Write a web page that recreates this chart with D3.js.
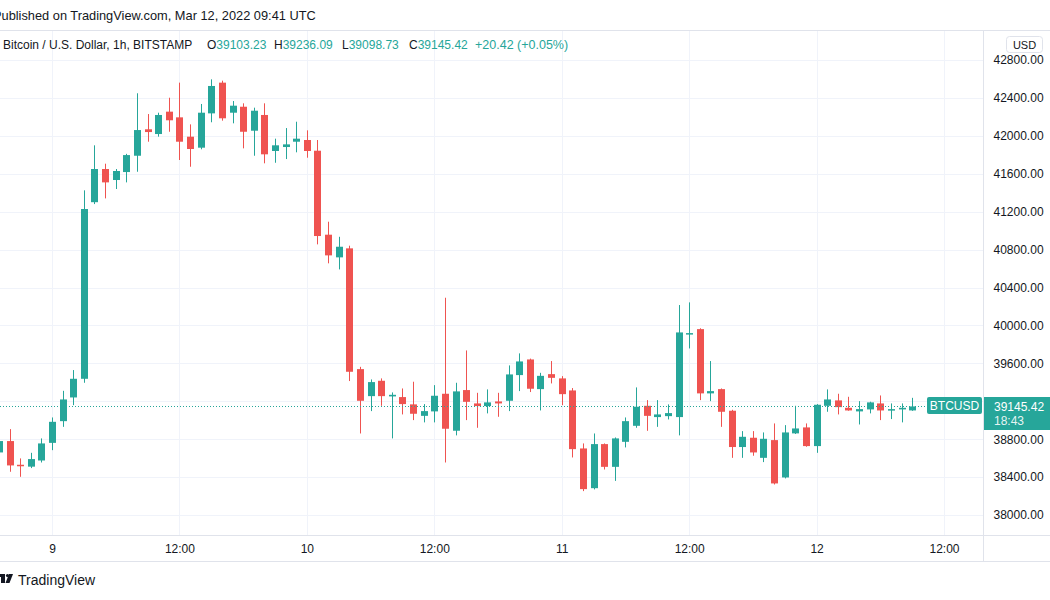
<!DOCTYPE html>
<html><head><meta charset="utf-8">
<script src="https://cdn.jsdelivr.net/npm/d3@7"></script>
<style>html,body{margin:0;padding:0;background:#fff;overflow:hidden}svg{display:block}text{font-family:"Liberation Sans",Arial,sans-serif}</style>
</head><body>
<svg id="chart" width="1050" height="600"></svg>
<script>
// ---- data (hourly candles, BITSTAMP BTC/USD) ----
const startTime = "2022-03-08T19:00:00Z";
const opens  = [38660,38780,38530,38510,38575,38761,38990,39240,39437,41300,41650,41534,41618,41790,42069,42019,42255,42195,41991,41875,42237,42561,42244,42307,42054,42220,41840,41882,41938,41956,41843,40957,40718,40813,39539,39254,39416,39251,39244,39167,39046,39093,39279,38889,39318,39177,39149,39198,39205,39476,39641,39328,39486,39441,39314,38702,38283,38748,38508,38772,38941,39152,39033,39043,39033,39905,39961,39283,39328,39100,38717,38815,38603,38790,38396,38861,38924,38727,39152,39209,39131,39093,39114,39177,39103,39114,39103.23];
const highs  = [38850,38906,38597,38656,38808,39029,39310,39529,41425,41900,41706,41650,41810,42449,42230,42244,42402,42561,42121,42336,42596,42582,42367,42343,42297,42343,41970,42082,42149,42058,41956,41094,40935,40841,39563,39430,39441,39293,39335,39406,39170,39370,40292,39395,39736,39289,39325,39289,39578,39705,39650,39500,39624,39465,39339,38755,38860,38755,38818,39029,39346,39212,39212,39167,40215,40243,39970,39624,39335,39110,38885,38885,38871,38966,38948,39152,38966,39170,39325,39279,39247,39201,39195,39261,39177,39177,39236.09];
const lows   = [38620,38456,38403,38495,38554,38684,38930,39159,39395,41280,41340,41439,41509,41621,41938,41991,42043,41745,41674,41858,42143,42160,42132,41868,41790,41710,41716,41755,41826,41769,40855,40655,40591,39413,38860,39096,39152,38808,39061,39001,38977,38977,38554,38840,39001,38920,39072,39036,39096,39307,39297,39103,39388,39159,38607,38252,38270,38480,38360,38713,38920,38888,38930,39008,38840,39757,39212,39201,38930,38603,38603,38625,38558,38322,38386,38855,38720,38656,39089,39061,39100,38955,39072,39001,39012,38977,39098.73];
const closes = [38780,38523,38515,38590,38755,38983,39219,39437,41228,41650,41509,41629,41797,42061,42040,42220,42164,41938,41861,42244,42526,42185,42318,42043,42265,41805,41900,41910,41970,41840,40943,40739,40830,39511,39205,39402,39254,39268,39170,39068,39096,39258,38910,39304,39194,39149,39188,39177,39483,39620,39332,39468,39447,39275,38695,38273,38748,38508,38808,38990,39142,39046,39061,39075,39926,39919,39283,39307,39089,38717,38825,38660,38804,38333,38871,38913,38727,39163,39219,39138,39103,39117,39188,39103,39117,39131,39145.42];
const priceTicks = [38000,38400,38800,39200,39600,40000,40400,40800,41200,41600,42000,42400,42800];
const timeTicks = ["2022-03-09T00:00Z","2022-03-09T12:00Z","2022-03-10T00:00Z","2022-03-10T12:00Z","2022-03-11T00:00Z","2022-03-11T12:00Z","2022-03-12T00:00Z","2022-03-12T12:00Z"];
const timeTickLabels = ["9","12:00","10","12:00","11","12:00","12","12:00"];
const lastPrice = 39145.42, countdown = "18:43", symbol = "BTCUSD";
const legendTitle = "Bitcoin / U.S. Dollar, 1h, BITSTAMP";
const legendKeys = ["O","H","L","C"];
const legendNums = ["39103.23","39236.09","39098.73","39145.42"];
const legendChange = "+20.42 (+0.05%)";
const publishedText = "Published on TradingView.com, Mar 12, 2022 09:41 UTC";

// ---- setup ----
const W = 1050, H = 600;
const paneTop = 30, paneBottom = 535.5, paneRight = 983.5;
const UP = "#26a69a", DOWN = "#ef5350", GRID = "#f0f3fa", BORDER = "#e0e3eb", TXT = "#131722";
const svg = d3.select("#chart");

const t0 = d3.isoParse(startTime);
const candles = opens.map((o,i)=>({t:d3.utcHour.offset(t0,i),o,h:highs[i],l:lows[i],c:closes[i]}));

const x = d3.scaleUtc().domain([d3.isoParse("2022-03-09T00:00Z"), d3.isoParse("2022-03-12T12:00Z")]).range([52, 944]);
const y = d3.scaleLinear().domain([38000, 42800]).range([515, 60]);
const yl = Math.round(y(lastPrice))+0.5;

const defs = svg.append("defs");
defs.append("clipPath").attr("id","pane").append("rect")
  .attr("x",0).attr("y",paneTop).attr("width",paneRight).attr("height",paneBottom-paneTop);
// price-axis clip: everything except the last-price label box
const axClip = defs.append("clipPath").attr("id","axclip");
axClip.append("rect").attr("x",paneRight).attr("y",paneTop).attr("width",W-paneRight).attr("height",(yl-9.5)-paneTop);
axClip.append("rect").attr("x",paneRight).attr("y",yl+23.5).attr("width",W-paneRight).attr("height",paneBottom-(yl+23.5));

// grid
const grid = svg.append("g").attr("clip-path","url(#pane)");
grid.selectAll("line.h").data(priceTicks).join("line")
  .attr("x1",0).attr("x2",paneRight).attr("y1",d=>Math.round(y(d))+0.5).attr("y2",d=>Math.round(y(d))+0.5)
  .attr("stroke",GRID).attr("stroke-width",1);
grid.selectAll("line.v").data(timeTicks).join("line")
  .attr("x1",d=>Math.round(x(d3.isoParse(d)))+0.5).attr("x2",d=>Math.round(x(d3.isoParse(d)))+0.5)
  .attr("y1",paneTop).attr("y2",paneBottom).attr("stroke",GRID).attr("stroke-width",1);

// borders
svg.append("line").attr("x1",0).attr("x2",W).attr("y1",paneTop+0.5).attr("y2",paneTop+0.5).attr("stroke",BORDER);
svg.append("line").attr("x1",0).attr("x2",W).attr("y1",paneBottom).attr("y2",paneBottom).attr("stroke",BORDER);
svg.append("line").attr("x1",0).attr("x2",W).attr("y1",561.5).attr("y2",561.5).attr("stroke",BORDER);
svg.append("line").attr("x1",paneRight).attr("x2",paneRight).attr("y1",paneTop).attr("y2",561.5).attr("stroke",BORDER);

// candles
const bw = 7;
const cg = svg.append("g").attr("clip-path","url(#pane)");
const cs = cg.selectAll("g.c").data(candles).join("g");
cs.append("line")
  .attr("x1",d=>Math.round(x(d.t))+0.5).attr("x2",d=>Math.round(x(d.t))+0.5)
  .attr("y1",d=>y(d.h)).attr("y2",d=>y(d.l))
  .attr("stroke",d=>d.c>=d.o?UP:DOWN).attr("stroke-width",1);
cs.append("rect")
  .attr("x",d=>Math.round(x(d.t))-3).attr("width",bw)
  .attr("y",d=>y(Math.max(d.o,d.c)))
  .attr("height",d=>Math.max(1.5,Math.abs(y(d.o)-y(d.c))))
  .attr("fill",d=>d.c>=d.o?UP:DOWN);

// last price dotted line
svg.append("line").attr("x1",0).attr("x2",927).attr("y1",yl).attr("y2",yl)
  .attr("stroke",UP).attr("stroke-width",1).attr("stroke-dasharray","1,2");

// price axis labels
const pa = svg.append("g").attr("clip-path","url(#axclip)").append("g").attr("transform",`translate(${paneRight},0)`);
const yAxis = d3.axisRight(y).tickValues(priceTicks).tickFormat(d=>d3.format(".2f")(d)).tickSize(0).tickPadding(10);
pa.call(yAxis);
pa.select(".domain").remove();
pa.selectAll("text").attr("fill",TXT).style("font-size","12px").style("font-family","'Liberation Sans',Arial,sans-serif");

// USD box
svg.append("rect").attr("x",1006.5).attr("y",36.5).attr("width",36).attr("height",16).attr("rx",3)
  .attr("fill","#fff").attr("stroke",BORDER);
svg.append("text").attr("x",1024.5).attr("y",48.5).attr("text-anchor","middle").attr("fill",TXT)
  .style("font-size","11px").text("USD");

// last price label on axis
svg.append("rect").attr("x",984).attr("y",yl-9.5).attr("width",66).attr("height",33).attr("fill",UP);
svg.append("text").attr("x",994).attr("y",yl+4).attr("fill","#fff").style("font-size","12px").text(d3.format(".2f")(lastPrice));
svg.append("text").attr("x",994).attr("y",yl+18).attr("fill","#fff").attr("fill-opacity",0.9).style("font-size","12px").text(countdown);
// symbol label
svg.append("rect").attr("x",927).attr("y",yl-9.5).attr("width",55).attr("height",17).attr("rx",2).attr("fill",UP);
svg.append("text").attr("x",954.5).attr("y",yl+3.5).attr("text-anchor","middle").attr("fill","#fff").style("font-size","12px").text(symbol);

// time axis
const ta = svg.append("g").attr("transform",`translate(0,${paneBottom})`);
const xAxis = d3.axisBottom(x).tickValues(timeTicks.map(d=>d3.isoParse(d)))
  .tickFormat((d,i)=>timeTickLabels[i]).tickSize(0).tickPadding(9);
ta.call(xAxis);
ta.select(".domain").remove();
ta.selectAll("text").attr("fill",TXT).style("font-size","12px").style("font-family","'Liberation Sans',Arial,sans-serif");

// header
svg.append("text").attr("x",-7).attr("y",20).attr("fill",TXT).style("font-size","12.8px").text(publishedText);
svg.append("text").attr("x",3).attr("y",48.5).style("font-size","12px").attr("fill",TXT).text(legendTitle);
const legX = [207,274,342,409];
legendKeys.forEach((k,i)=>{
  const t = svg.append("text").attr("x",legX[i]).attr("y",48.5).style("font-size","12px");
  t.append("tspan").attr("fill",TXT).text(k);
  t.append("tspan").attr("fill",UP).text(legendNums[i]);
});
svg.append("text").attr("x",475).attr("y",48.5).style("font-size","12.5px").attr("fill",UP).text(legendChange);

// TradingView logo footer
const logo = svg.append("g").attr("transform","translate(0,573)").attr("fill",TXT);
logo.append("rect").attr("x",-2).attr("y",1).attr("width",7).attr("height",3);
logo.append("rect").attr("x",1).attr("y",1).attr("width",4).attr("height",9);
logo.append("circle").attr("cx",7.5).attr("cy",2.5).attr("r",1.6);
logo.append("path").attr("d","M9,1 L13,1 L9.5,10 L5.5,10 Z");
svg.append("text").attr("x",18).attr("y",585).attr("fill",TXT).style("font-size","14px").text("TradingView");
</script>
</body></html>
